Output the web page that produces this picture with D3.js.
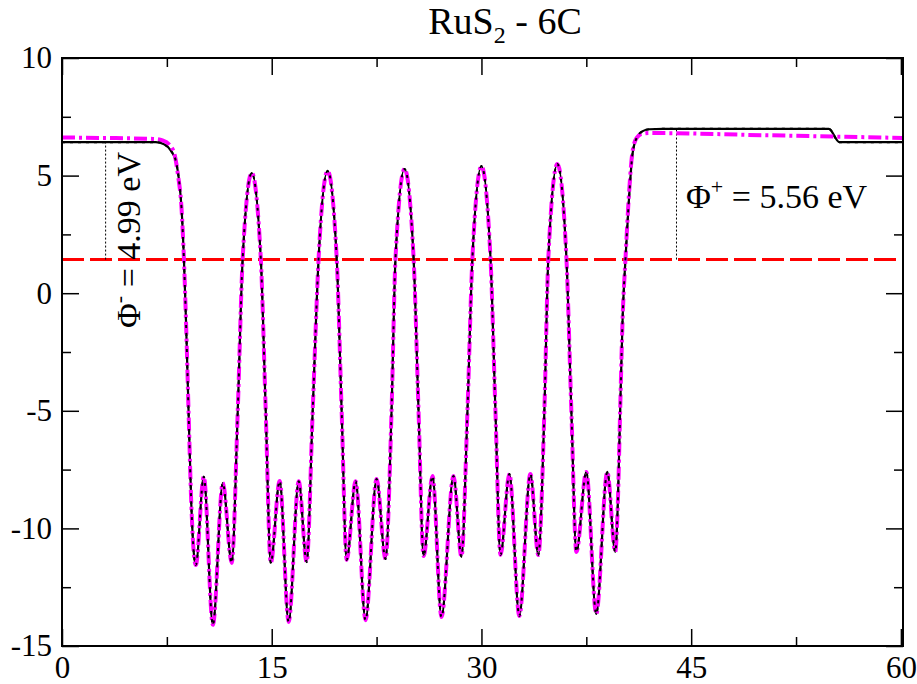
<!DOCTYPE html>
<html>
<head>
<meta charset="utf-8">
<script src="https://cdn.jsdelivr.net/npm/d3@7"></script>
<style>
  html, body { margin: 0; padding: 0; background: #fff; }
  svg { display: block; }
  text { font-family: "Liberation Serif", "Times New Roman", serif; fill: #000; }
</style>
</head>
<body>
<svg id="chart" width="917" height="684"></svg>
<script>
// Planar-averaged electrostatic potential across the slab (eV vs. position)
const potentialX = [
  0, 3, 6.7, 7.3, 7.8, 8.15, 8.35, 8.55, 8.72, 8.87, 9.05, 9.25, 9.42, 9.57,
  10.14, 10.79, 11.5, 12.14,
  12.57, 12.92, 13.57, 14.22, 14.57, 14.93,
  15.57, 16.21, 16.93, 17.5,
  17.93, 18.35, 19.0, 19.65, 20.0, 20.36,
  21.0, 21.71, 22.5, 23.14,
  23.57, 23.85, 24.5, 25.15, 25.5, 25.86,
  26.5, 27.14, 28.0, 28.57,
  29.0, 29.35, 30.0, 30.65, 31.0, 31.36,
  32.0, 32.71, 33.5, 34.07,
  34.5, 34.78, 35.43, 36.08, 36.43, 36.79,
  37.5, 38.21, 39.0, 39.57,
  39.75, 39.92, 40.1, 40.3, 40.55, 40.8, 41.1, 41.5, 42.0, 43.0,
  54.85, 55.6, 60.15
];
const potentialY = [
  6.42, 6.42, 6.42, 6.33, 6.05, 5.6, 4.9, 3.6, 1.45, -1.2, -5.0, -9.0, -11.0, -11.56,
  -7.8, -14.1, -8.07, -11.47,
  -5.0, 1.45, 5.11, 1.45, -5.0, -11.47,
  -7.98, -13.98, -8.0, -11.43,
  -5.0, 1.45, 5.2, 1.45, -5.0, -11.34,
  -8.0, -13.9, -7.9, -11.3,
  -5.0, 1.45, 5.28, 1.45, -5.0, -11.17,
  -7.77, -13.77, -7.77, -11.2,
  -5.0, 1.45, 5.4, 1.45, -5.0, -11.13,
  -7.69, -13.72, -7.69, -11.13,
  -5.0, 1.45, 5.49, 1.45, -5.0, -11.0,
  -7.6, -13.64, -7.6, -11.0,
  -9.0, -5.0, -1.0, 1.45, 4.0, 5.9, 6.6, 6.88, 6.97, 6.99,
  6.99, 6.42, 6.42
];

// Dipole-corrected potential
const correctedX = [
  0, 3, 6.5, 7.2, 7.7, 8.05, 8.3, 8.55, 8.72, 8.87, 9.05, 9.25, 9.42, 9.57,
  10.14, 10.79, 11.5, 12.14,
  12.57, 12.92, 13.57, 14.22, 14.57, 14.93,
  15.57, 16.21, 16.93, 17.5,
  17.93, 18.35, 19.0, 19.65, 20.0, 20.36,
  21.0, 21.71, 22.5, 23.14,
  23.57, 23.85, 24.5, 25.15, 25.5, 25.86,
  26.5, 27.14, 28.0, 28.57,
  29.0, 29.35, 30.0, 30.65, 31.0, 31.36,
  32.0, 32.71, 33.5, 34.07,
  34.5, 34.78, 35.43, 36.08, 36.43, 36.79,
  37.5, 38.21, 39.0, 39.57,
  39.75, 39.92, 40.1, 40.3, 40.55, 40.8, 41.1, 41.5, 42.0, 50.0,
  56.0, 60.15
];
const correctedY = [
  6.62, 6.6, 6.56, 6.5, 6.3, 5.9, 5.0, 3.6, 1.45, -1.2, -5.0, -9.0, -11.0, -11.56,
  -7.8, -14.1, -8.07, -11.47,
  -5.0, 1.45, 5.11, 1.45, -5.0, -11.47,
  -7.98, -13.98, -8.0, -11.43,
  -5.0, 1.45, 5.2, 1.45, -5.0, -11.34,
  -8.0, -13.9, -7.9, -11.3,
  -5.0, 1.45, 5.28, 1.45, -5.0, -11.17,
  -7.77, -13.77, -7.77, -11.2,
  -5.0, 1.45, 5.4, 1.45, -5.0, -11.13,
  -7.69, -13.72, -7.69, -11.13,
  -5.0, 1.45, 5.49, 1.45, -5.0, -11.0,
  -7.6, -13.64, -7.6, -11.0,
  -9.0, -5.0, -1.0, 1.45, 4.2, 6.0, 6.6, 6.78, 6.81, 6.72,
  6.65, 6.6
];

// Fermi level and work functions
const fermiLevel = 1.43;
const workFunctions = [
  { label: "-", value: 4.99, x: 3.12 },
  { label: "+", value: 5.56, x: 43.95 }
];

const xDomain = [0, 60.15];
const yDomain = [-15, 10];
const xMajorTicks = [0, 15, 30, 45, 60];
const xMinorTicks = [7.5, 22.5, 37.5, 52.5];
const yMajorTicks = [-15, -10, -5, 0, 5, 10];
const yMinorTicks = [-12.5, -7.5, -2.5, 2.5, 7.5];

const plotLeft = 62, plotRight = 903, plotTop = 58, plotBottom = 646;
const svg = d3.select("#chart");

const x = d3.scaleLinear().domain(xDomain).range([plotLeft, plotRight]);
const y = d3.scaleLinear().domain(yDomain).range([plotBottom, plotTop]);

svg.append("defs").append("clipPath").attr("id", "plot-clip")
  .append("rect").attr("x", plotLeft).attr("y", plotTop)
  .attr("width", plotRight - plotLeft).attr("height", plotBottom - plotTop);

const plot = svg.append("g").attr("clip-path", "url(#plot-clip)");

const line = d3.line()
  .x(d => x(d[0]))
  .y(d => y(d[1]))
  .curve(d3.curveMonotoneX);

const potential = potentialX.map((v, i) => [v, potentialY[i]]);
const corrected = correctedX.map((v, i) => [v, correctedY[i]]);

// Fermi level
plot.append("line")
  .attr("x1", x(xDomain[0])).attr("x2", x(xDomain[1]))
  .attr("y1", y(fermiLevel)).attr("y2", y(fermiLevel))
  .attr("stroke", "#ff0000").attr("stroke-width", 3)
  .attr("stroke-dasharray", "22,6");

// Work-function markers
plot.selectAll(".wf").data(workFunctions).join("line")
  .attr("class", "wf")
  .attr("x1", d => x(d.x)).attr("x2", d => x(d.x))
  .attr("y1", y(fermiLevel)).attr("y2", d => y(fermiLevel + d.value))
  .attr("stroke", "#000").attr("stroke-width", 1)
  .attr("stroke-dasharray", "2,2");

plot.append("path").datum(potential)
  .attr("d", line).attr("fill", "none")
  .attr("stroke", "#000").attr("stroke-width", 2.2);

plot.append("path").datum(corrected)
  .attr("d", line).attr("fill", "none")
  .attr("stroke", "#ff00ff").attr("stroke-width", 4)
  .attr("stroke-dasharray", "13,4,3,4");

plot.append("path").datum(potential)
  .attr("d", line).attr("fill", "none")
  .attr("stroke", "#000").attr("stroke-width", 2)
  .attr("stroke-dasharray", "3,5");

// Axes and frame
const tickFont = 31;
function styleAxis(g) {
  g.select(".domain").remove();
  g.selectAll(".tick line").attr("stroke", "#000").attr("stroke-width", 1.5);
  g.selectAll(".tick text")
    .attr("font-family", "Liberation Serif, serif")
    .attr("font-size", tickFont).attr("fill", "#000");
}
const fmt = d => String(d);

svg.append("g").attr("transform", `translate(0,${plotBottom})`)
  .call(d3.axisBottom(x).tickValues(xMajorTicks).tickSize(-17).tickPadding(10).tickFormat(fmt))
  .call(styleAxis);
svg.append("g").attr("transform", `translate(0,${plotBottom})`)
  .call(d3.axisBottom(x).tickValues(xMinorTicks).tickSize(-9).tickFormat(""))
  .call(styleAxis);
svg.append("g").attr("transform", `translate(0,${plotTop})`)
  .call(d3.axisTop(x).tickValues(xMajorTicks).tickSize(-17).tickFormat(""))
  .call(styleAxis);
svg.append("g").attr("transform", `translate(0,${plotTop})`)
  .call(d3.axisTop(x).tickValues(xMinorTicks).tickSize(-9).tickFormat(""))
  .call(styleAxis);

svg.append("g").attr("transform", `translate(${plotLeft},0)`)
  .call(d3.axisLeft(y).tickValues(yMajorTicks).tickSize(-17).tickPadding(10).tickFormat(fmt))
  .call(styleAxis);
svg.append("g").attr("transform", `translate(${plotLeft},0)`)
  .call(d3.axisLeft(y).tickValues(yMinorTicks).tickSize(-9).tickFormat(""))
  .call(styleAxis);
svg.append("g").attr("transform", `translate(${plotRight},0)`)
  .call(d3.axisRight(y).tickValues(yMajorTicks).tickSize(-17).tickFormat(""))
  .call(styleAxis);
svg.append("g").attr("transform", `translate(${plotRight},0)`)
  .call(d3.axisRight(y).tickValues(yMinorTicks).tickSize(-9).tickFormat(""))
  .call(styleAxis);

svg.append("rect")
  .attr("x", plotLeft).attr("y", plotTop)
  .attr("width", plotRight - plotLeft).attr("height", plotBottom - plotTop)
  .attr("fill", "none").attr("stroke", "#000").attr("stroke-width", 2);

// Title
const title = svg.append("text")
  .attr("x", 505).attr("y", 34)
  .attr("text-anchor", "middle")
  .attr("font-size", 38);
title.append("tspan").text("RuS");
title.append("tspan").attr("font-size", 24).attr("dy", 9).text("2");
title.append("tspan").attr("dy", -9).text(" - 6C");

// Work-function labels
const wfLeft = svg.append("text")
  .attr("transform", "translate(140,240) rotate(-90)")
  .attr("text-anchor", "middle")
  .attr("font-size", 34);
wfLeft.append("tspan").text("\u03A6");
wfLeft.append("tspan").attr("font-size", 22).attr("dy", -14).text(workFunctions[0].label);
wfLeft.append("tspan").attr("dy", 14).text(` = ${workFunctions[0].value.toFixed(2)} eV`);

const wfRight = svg.append("text")
  .attr("x", 686).attr("y", 208)
  .attr("font-size", 34);
wfRight.append("tspan").text("\u03A6");
wfRight.append("tspan").attr("font-size", 22).attr("dy", -14).text(workFunctions[1].label);
wfRight.append("tspan").attr("dy", 14).text(` = ${workFunctions[1].value.toFixed(2)} eV`);
</script>
</body>
</html>
